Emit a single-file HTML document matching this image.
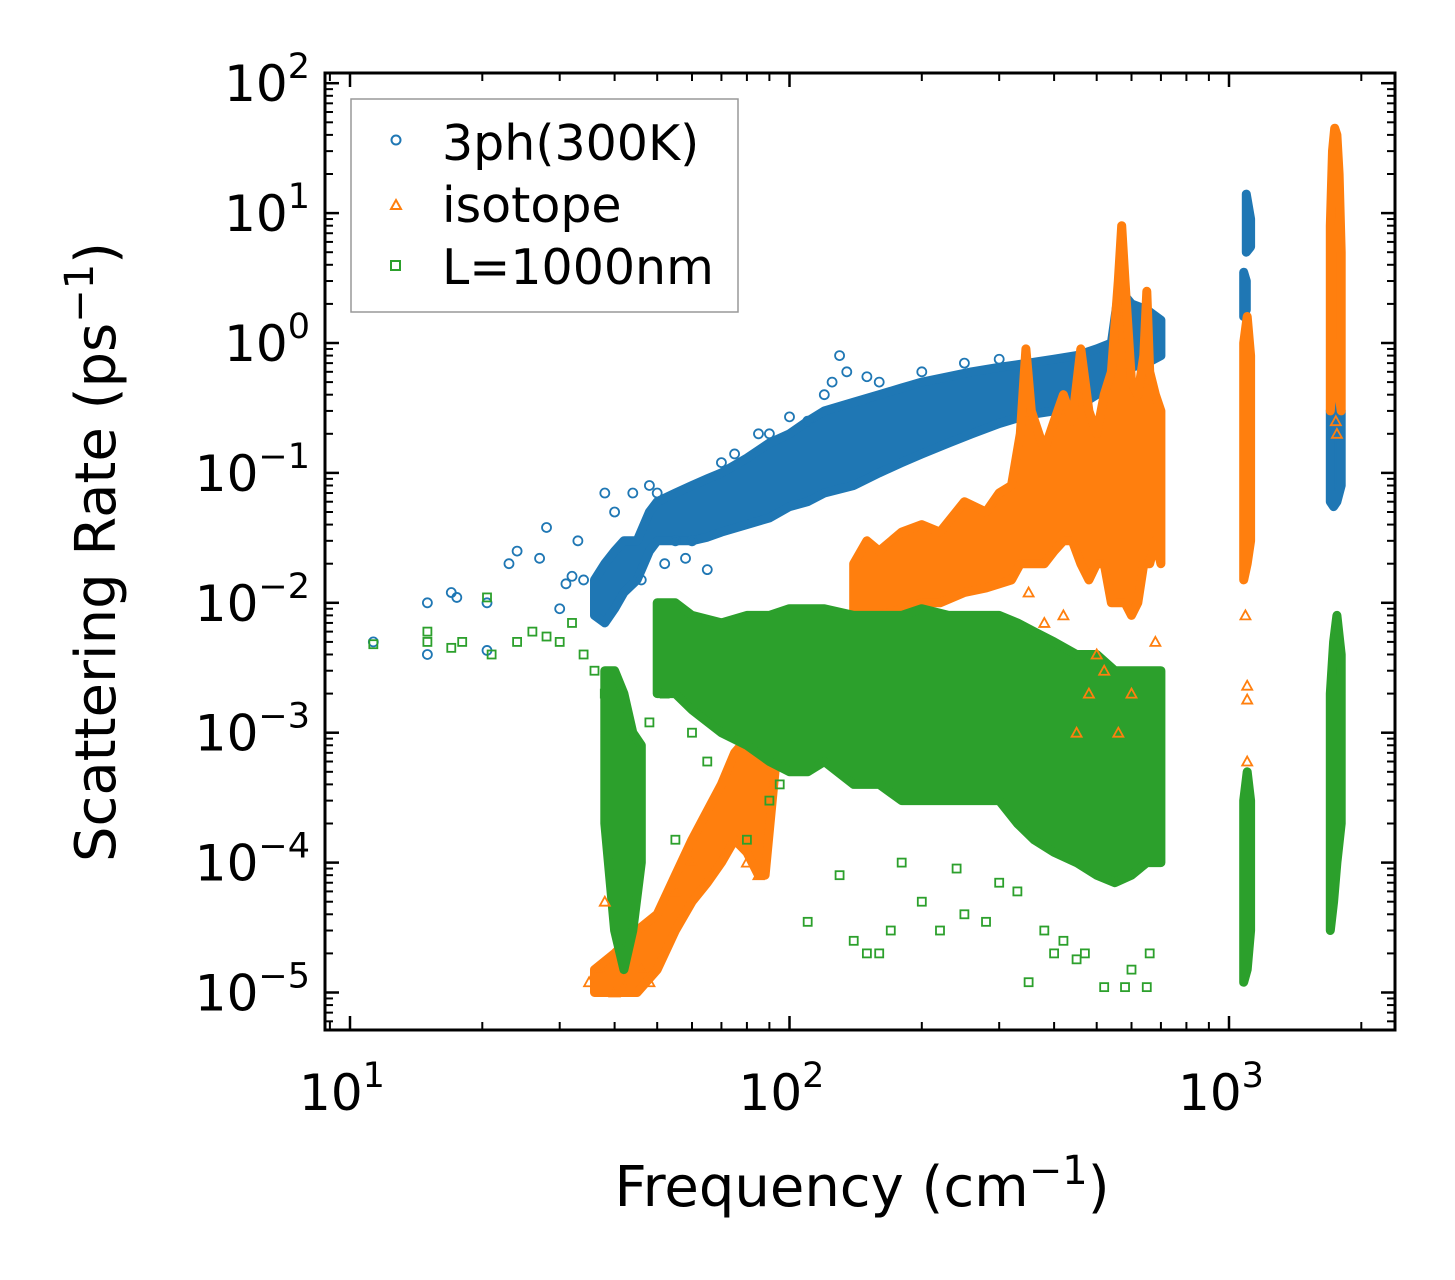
<!DOCTYPE html>
<html><head><meta charset="utf-8"><style>
body{margin:0;background:#fff;}
svg{display:block;font-family:"DejaVu Sans","Liberation Sans",sans-serif;}
</style></head><body>
<svg id="chart" width="1455" height="1280" viewBox="0 0 1455 1280" xmlns="http://www.w3.org/2000/svg">
<rect width="1455" height="1280" fill="#fff"/>
<g id="bands"></g>
<g id="pts"></g>
<g id="axes"></g>
<g>
<rect x="351" y="99" width="387" height="213" fill="#fff" stroke="#999" stroke-width="1.5"/>
<circle cx="396" cy="140" r="4.5" fill="none" stroke="#1f77b4" stroke-width="2"/>
<text x="442" y="160" font-size="49">3ph(300K)</text>
<path d="M396,200 L401,209 L391,209 Z" fill="none" stroke="#ff7f0e" stroke-width="2"/>
<text x="442" y="222" font-size="49">isotope</text>
<rect x="391" y="261" width="9" height="9" fill="none" stroke="#2ca02c" stroke-width="2"/>
<text x="442" y="284" font-size="49">L=1000nm</text>
</g>
<text x="862" y="1206" font-size="56" text-anchor="middle">Frequency (cm<tspan dy="-22" font-size="40">−1</tspan><tspan dy="22">)</tspan></text>
<text transform="translate(115,552) rotate(-90)" font-size="56" text-anchor="middle">Scattering Rate (ps<tspan dy="-22" font-size="40">−1</tspan><tspan dy="22">)</tspan></text>
</svg>
<script>
// ---- data ----
const blueMainF=[36,38,40,42,45,48,50,55,60,65,70,80,90,100,110,120,140,160,180,200,230,260,300,350,400,450,500,540,560,580,600,650,700];
const blueMainLo=[.008,.007,.009,.012,.015,.025,.03,.03,.03,.032,.035,.04,.045,.055,.06,.07,.08,.1,.12,.14,.17,.2,.24,.28,.3,.32,.4,.45,.55,.6,.65,.7,.8];
const blueMainHi=[.015,.02,.025,.03,.03,.05,.06,.07,.08,.09,.1,.13,.17,.2,.25,.3,.35,.4,.45,.5,.55,.6,.65,.7,.75,.8,.9,1.0,2.4,2.3,2.0,1.8,1.5];
const blueA_F=[1080,1095],blueA_Lo=[1.6,1.8],blueA_Hi=[3.5,3.0];
const blueB_F=[1095,1120],blueB_Lo=[5,5.5],blueB_Hi=[14,9];
const blueC_F=[1700,1730,1760,1800],blueC_Lo=[.06,.055,.06,.08],blueC_Hi=[.3,.4,.35,.3];
const orgA_F=[36,40,45,50,55,60,65,70,75,80,85,88,95,100];
const orgA_Lo=[1e-5,1e-5,1e-5,1.5e-5,3e-5,5e-5,7e-5,1e-4,1.5e-4,1.2e-4,8e-5,8e-5,1.2e-3,1.5e-3];
const orgA_Hi=[1.5e-5,2e-5,3e-5,4e-5,8e-5,1.5e-4,2.5e-4,4e-4,7e-4,9e-4,1.2e-3,2e-3,2e-3,3e-3];
const orgB_F=[140,150,160,180,200,220,250,280,300,320,335,345,355,380,400,420,440,460,480,500,520,540,560,570,580,600,620,640,650,660,680,700];
const orgB_Lo=[.006,.007,.008,.009,.01,.01,.012,.013,.014,.015,.02,.02,.02,.02,.025,.03,.03,.02,.015,.02,.02,.01,.01,.01,.01,.008,.01,.02,.02,.02,.03,.02];
const orgB_Hi=[.02,.03,.025,.035,.04,.035,.06,.05,.07,.08,.2,.9,.3,.15,.25,.4,.25,.9,.3,.2,.4,.6,3,8,3,.5,.4,.8,2.5,.6,.4,.3];
const orgC_F=[1080,1100,1120],orgC_Lo=[.015,.02,.03],orgC_Hi=[1.0,1.6,.8];
const orgD_F=[1700,1720,1740,1760,1780,1800],orgD_Lo=[.3,.5,1,.8,.4,.3],orgD_Hi=[8,30,45,40,20,5];
const grnA_F=[38,40,42,44,46],grnA_Lo=[2e-4,3e-5,1.5e-5,3e-5,1e-4],grnA_Hi=[3e-3,3e-3,2e-3,1e-3,8e-4];
const grnB_F=[50,55,60,70,80,90,100,110,120,140,160,180,200,230,260,300,330,360,400,450,500,550,600,650,700];
const grnB_Lo=[2e-3,2e-3,1.5e-3,1e-3,8e-4,6e-4,5e-4,5e-4,6e-4,4e-4,4e-4,3e-4,3e-4,3e-4,3e-4,3e-4,2e-4,1.5e-4,1.2e-4,1e-4,8e-5,7e-5,8e-5,1e-4,1e-4];
const grnB_Hi=[1e-2,1e-2,8e-3,7e-3,8e-3,8e-3,9e-3,9e-3,9e-3,8e-3,8e-3,8e-3,9e-3,8e-3,8e-3,8e-3,7e-3,6e-3,5e-3,4e-3,4e-3,3e-3,3e-3,3e-3,3e-3];
const grnC_F=[1080,1100,1120],grnC_Lo=[1.2e-5,1.5e-5,3e-5],grnC_Hi=[3e-4,5e-4,3e-4];
const grnD_F=[1700,1730,1760,1800],grnD_Lo=[3e-5,5e-5,1e-4,2e-4],grnD_Hi=[2e-3,5e-3,8e-3,4e-3];
const blueF=[11.3,15,15,17,17.5,20.5,20.5,23,24,27,28,30,31,32,33,34,38,40,44,46,48,50,52,55,58,60,65,110,125,130,135,150,100,85,120,70,75,90,160,200,250,300];
const blueR=[.005,.01,.004,.012,.011,.01,.0043,.02,.025,.022,.038,.009,.014,.016,.03,.015,.07,.05,.07,.015,.08,.07,.02,.03,.022,.03,.018,.25,.5,.8,.6,.55,.27,.2,.4,.12,.14,.2,.5,.6,.7,.75];
const orgF=[35,37,40,42,46,48,38,680,600,560,520,480,450,350,380,1100,1100,1100,1090,1750,1760,420,500,80,85,60,55];
const orgR=[1.2e-5,1.5e-5,1e-5,1.1e-5,1.5e-5,1.2e-5,5e-5,.005,.002,.001,.003,.002,.001,.012,.007,2.3e-3,1.8e-3,6e-4,.008,.25,.2,.008,.004,1e-4,8e-5,1e-4,6e-5];
const grnF=[11.3,15,15,17,18,20.5,21,24,26,28,30,32,34,36,38,110,140,150,160,170,200,220,250,280,350,400,450,520,580,650,380,420,470,300,330,130,180,240,600,660,55,60,65,48,52,90,95,80];
const grnR=[.0048,.006,.005,.0045,.005,.011,.004,.005,.006,.0055,.005,.007,.004,.003,.002,3.5e-5,2.5e-5,2e-5,2e-5,3e-5,5e-5,3e-5,4e-5,3.5e-5,1.2e-5,2e-5,1.8e-5,1.1e-5,1.1e-5,1.1e-5,3e-5,2.5e-5,2e-5,7e-5,6e-5,8e-5,1e-4,9e-5,1.5e-5,2e-5,1.5e-4,1e-3,6e-4,1.2e-3,2e-3,3e-4,4e-4,1.5e-4];
// ---- axes ----
const X0=350,XD=439.5,Y0=343,YD=129.9;
const xs=f=>X0+XD*Math.log10(f/10);
const ys=r=>Y0-YD*Math.log10(r);
const NS="http://www.w3.org/2000/svg";
function el(t,a,p){const e=document.createElementNS(NS,t);for(const k in a)e.setAttribute(k,a[k]);p.appendChild(e);return e;}
const bands=document.getElementById('bands'),pts=document.getElementById('pts'),axes=document.getElementById('axes');
function band(F,Lo,Hi,c,name){
  let d='M'+F.map((f,i)=>xs(f).toFixed(1)+','+ys(Hi[i]).toFixed(1)).join('L');
  for(let i=F.length-1;i>=0;i--)d+='L'+xs(F[i]).toFixed(1)+','+ys(Lo[i]).toFixed(1);
  const p=el('path',{d:d+'Z',fill:c,stroke:c,'stroke-width':9,'stroke-linejoin':'round'},bands);
  
  
}
const B='#1f77b4',O='#ff7f0e',G='#2ca02c';
band(blueMainF,blueMainLo,blueMainHi,B,'3ph-cluster-main');
band(blueA_F,blueA_Lo,blueA_Hi,B,'3ph-cluster-1100a');
band(blueB_F,blueB_Lo,blueB_Hi,B,'3ph-cluster-1100b');
band(blueC_F,blueC_Lo,blueC_Hi,B,'3ph-cluster-1750');
band(orgA_F,orgA_Lo,orgA_Hi,O,'isotope-cluster-low');
band(orgB_F,orgB_Lo,orgB_Hi,O,'isotope-cluster-main');
band(orgC_F,orgC_Lo,orgC_Hi,O,'isotope-cluster-1100');
band(orgD_F,orgD_Lo,orgD_Hi,O,'isotope-cluster-1750');
band(grnA_F,grnA_Lo,grnA_Hi,G,'boundary-cluster-40');
band(grnB_F,grnB_Lo,grnB_Hi,G,'boundary-cluster-main');
band(grnC_F,grnC_Lo,grnC_Hi,G,'boundary-cluster-1100');
band(grnD_F,grnD_Lo,grnD_Hi,G,'boundary-cluster-1750');
blueF.forEach((f,i)=>{const m=el('circle',{cx:xs(f),cy:ys(blueR[i]),r:4.5,fill:'none',stroke:B,'stroke-width':1.8},pts);

});
orgF.forEach((f,i)=>{const x=xs(f),y=ys(orgR[i]);const m=el('path',{d:`M${x},${y-5}L${x+5},${y+4}L${x-5},${y+4}Z`,fill:'none',stroke:O,'stroke-width':1.8},pts);

});
grnF.forEach((f,i)=>{const m=el('rect',{x:xs(f)-4,y:ys(grnR[i])-4,width:8,height:8,fill:'none',stroke:G,'stroke-width':1.8},pts);

});
// frame & ticks
const L=325,R=1395,T=73,Bt=1030;
const fr=el('rect',{x:L,y:T,width:R-L,height:Bt-T,fill:'none',stroke:'#000','stroke-width':3},axes);


function tk(x1,y1,x2,y2,w){el('line',{x1,y1,x2,y2,stroke:'#000','stroke-width':w},axes);}
for(let d=0;d<4;d++)for(let k=1;k<10;k++){const f=Math.pow(10,d)*k;if(f<9||f>2380)continue;const x=xs(f);const len=k==1?14:8;
 tk(x,Bt,x,Bt-len,k==1?2.5:2);tk(x,T,x,T+len,k==1?2.5:2);}
['1','2','3'].forEach((e,i)=>{const t=el('text',{x:xs(Math.pow(10,i+1))-8,y:1110,'font-size':50,'text-anchor':'middle'},axes);


t.innerHTML=`10<tspan dy="-23" font-size="35">${e}</tspan>`;});
for(let d=-6;d<3;d++)for(let k=1;k<10;k++){const r=Math.pow(10,d)*k;const y=ys(r);if(y<T||y>Bt)continue;const len=k==1?14:8;
 tk(L,y,L+len,y,k==1?2.5:2);tk(R,y,R-len,y,k==1?2.5:2);}
const yExp=['2','1','0','−1','−2','−3','−4','−5'];
yExp.forEach((e,i)=>{const t=el('text',{x:310,y:ys(Math.pow(10,2-i))+18,'font-size':50,'text-anchor':'end'},axes);


t.innerHTML=`10<tspan dy="-23" font-size="35">${e}</tspan>`;});
</script>
</body></html>
